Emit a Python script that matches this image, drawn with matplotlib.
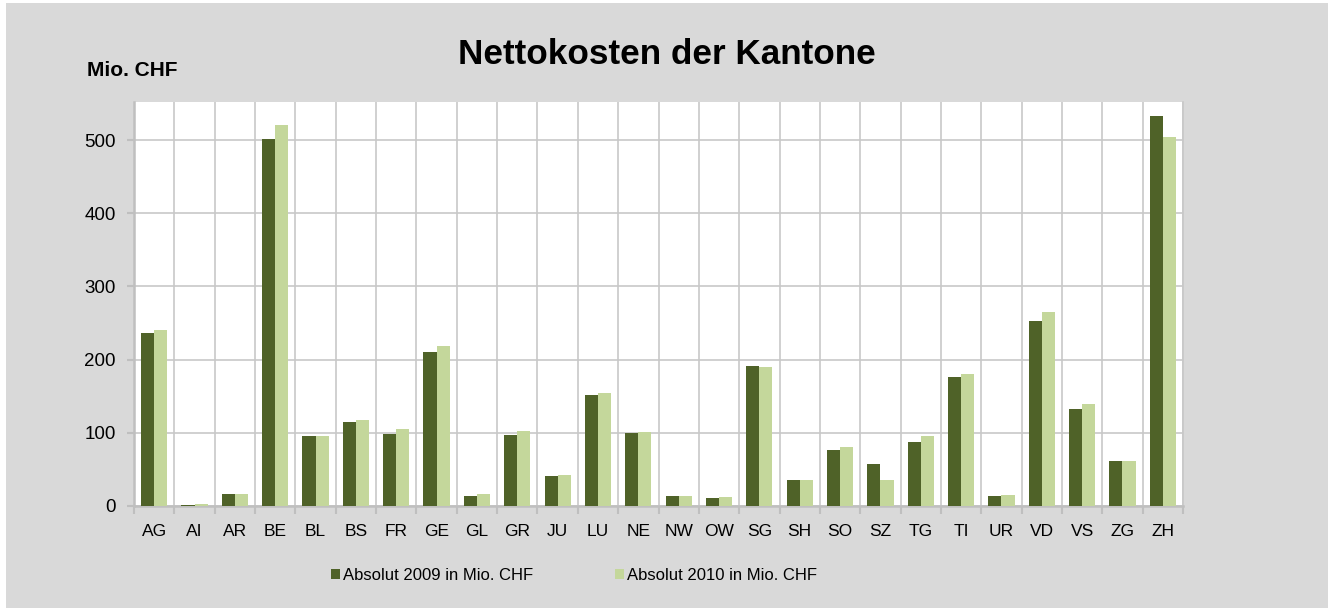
import numpy as np
import matplotlib
matplotlib.use('Agg')
import matplotlib.pyplot as plt
from matplotlib.patches import Rectangle

# Kantone und Nettokosten (Mio. CHF)
kantone = ['AG', 'AI', 'AR', 'BE', 'BL', 'BS', 'FR', 'GE', 'GL', 'GR', 'JU', 'LU', 'NE',
           'NW', 'OW', 'SG', 'SH', 'SO', 'SZ', 'TG', 'TI', 'UR', 'VD', 'VS', 'ZG', 'ZH']
werte_2009 = [237, 2, 17, 501, 96, 115, 99, 210, 13, 97, 41, 151, 100,
              13, 11, 191, 36, 77, 58, 87, 176, 14, 253, 132, 61, 533]
werte_2010 = [241, 3, 16, 521, 96, 117, 105, 218, 17, 102, 42, 154, 101,
              14, 12, 190, 36, 80, 36, 96, 180, 15, 265, 140, 61, 504]
serien = ['Absolut 2009 in Mio. CHF', 'Absolut 2010 in Mio. CHF']
y_ticks = [0, 100, 200, 300, 400, 500]

dunkel = '#4F6228'
hell = '#C4D79B'
grau_bg = '#D9D9D9'
grid_c = '#C8C8C8'

plt.rcParams['font.family'] = ['Liberation Sans', 'DejaVu Sans']

fig = plt.figure(figsize=(13.34, 6.08), dpi=100, facecolor='white')
# grauer Hintergrund mit schmalem weissem Rand
fig.patches.append(Rectangle((6 / 1334, 0), 1322 / 1334, 605 / 608,
                             transform=fig.transFigure, facecolor=grau_bg,
                             edgecolor='none', zorder=-5))

ax = fig.add_axes([134 / 1334, 1 - 506 / 608, 1049 / 1334, 404 / 608])
ax.set_zorder(2)
ax.set_facecolor('white')

x = np.arange(len(kantone))
w = 0.325
b1 = ax.bar(x - w / 2, werte_2009, w, color=dunkel, label=serien[0], zorder=3)
b2 = ax.bar(x + w / 2, werte_2010, w, color=hell, label=serien[1], zorder=3)

ax.set_xlim(-0.5, len(kantone) - 0.5)
ax.set_ylim(0, 552)

ax.set_yticks(y_ticks)
ax.set_xticks(x)
ax.set_xticklabels(kantone)
ax.set_xticks(np.arange(len(kantone) + 1) - 0.5, minor=True)

ax.tick_params(axis='y', labelsize=13.5, length=5, color='#BFBFBF', width=1.5, pad=8)
ax.tick_params(axis='x', which='major', labelsize=12.5, length=0, pad=13)
ax.tick_params(axis='x', which='minor', length=6, color='#BFBFBF', width=1.5)

ax.grid(axis='y', which='major', color=grid_c, linewidth=1.2, zorder=1)
ax.grid(axis='x', which='minor', color=grid_c, linewidth=1.2, zorder=1)
ax.set_axisbelow(True)

for s in ['left', 'bottom']:
    ax.spines[s].set_color('#BFBFBF')
    ax.spines[s].set_linewidth(1.8)
ax.spines['right'].set_color('#C8C8C8')
ax.spines['right'].set_linewidth(1.2)
ax.spines['top'].set_visible(False)

fig.text(667 / 1334, 1 - 55 / 608, 'Nettokosten der Kantone', ha='center', va='center',
         fontsize=25.3, fontweight='bold')
fig.text(87 / 1334, 1 - 71 / 608, 'Mio. CHF', ha='left', va='center',
         fontsize=15, fontweight='bold')

fig.legend(handles=[b1, b2], labels=serien, loc='center', ncol=2,
           bbox_to_anchor=(574 / 1334, 1 - 575 / 608), frameon=False,
           fontsize=12, handlelength=0.55, handleheight=0.55,
           handletextpad=0.2, columnspacing=4.9)

fig.savefig('out.png', dpi=100, facecolor=fig.get_facecolor())
